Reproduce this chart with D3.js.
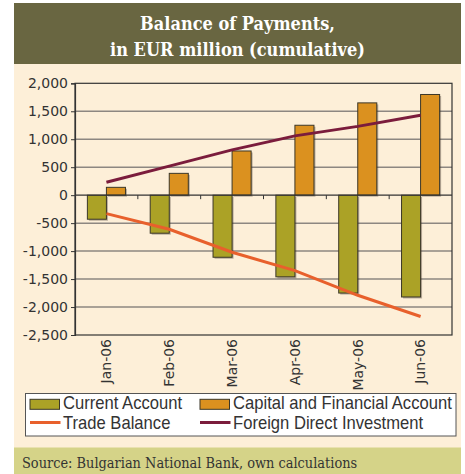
<!DOCTYPE html>
<html>
<head>
<meta charset="utf-8">
<script src="https://cdn.jsdelivr.net/npm/d3@7"></script>
<style>
  body { margin: 0; background: #fff; }
  svg { display: block; }
</style>
</head>
<body>
<div id="chart"></div>
<script>
const months = ['Jan-06', 'Feb-06', 'Mar-06', 'Apr-06', 'May-06', 'Jun-06'];
const currentAccount = [-430, -680, -1110, -1460, -1750, -1820];
const capitalFinancial = [140, 390, 790, 1250, 1650, 1800];
const tradeBalance = [-330, -610, -1020, -1350, -1790, -2170];
const fdi = [230, 520, 810, 1060, 1230, 1430];
const yTicks = [-2500, -2000, -1500, -1000, -500, 0, 500, 1000, 1500, 2000];
const titleLines = ['Balance of Payments,', 'in EUR million (cumulative)'];
const source = 'Source: Bulgarian National Bank, own calculations';

const barSeries = [
  { name: 'Current Account', values: currentAccount, color: '#aba226' },
  { name: 'Capital and Financial Account', values: capitalFinancial, color: '#db911f' },
];
const lineSeries = [
  { name: 'Trade Balance', values: tradeBalance, color: '#e8602c' },
  { name: 'Foreign Direct Investment', values: fdi, color: '#7b1c3c' },
];

const W = 465, H = 474;
const margin = { top: 83.3, left: 75, right: 13, bottom: 139 };
const serif = '"DejaVu Serif Condensed", "DejaVu Serif", serif';

const svg = d3.select('#chart').append('svg')
  .attr('width', W)
  .attr('height', H);

// panel backgrounds
svg.append('rect').attr('x', 14).attr('y', 3).attr('width', 447).attr('height', H - 3).attr('fill', '#fdefd8');
svg.append('rect').attr('x', 14).attr('y', 3).attr('width', 447).attr('height', 61).attr('fill', '#696641');
svg.append('rect').attr('x', 14).attr('y', 447.5).attr('width', 447).attr('height', H - 447.5).attr('fill', '#d5d388');

svg.append('g').selectAll('text').data(titleLines).enter()
  .append('text')
    .attr('x', 237.5)
    .attr('y', (d, i) => 30 + i * 26)
    .attr('text-anchor', 'middle')
    .attr('fill', '#fff')
    .attr('font-family', serif)
    .attr('font-weight', 'bold')
    .attr('font-size', 18)
    .text(d => d);

svg.append('text')
  .attr('x', 22)
  .attr('y', 468)
  .attr('fill', '#333')
  .attr('font-family', serif)
  .attr('font-size', 14.4)
  .text(source);

// scales
const x = d3.scaleBand()
  .domain(months)
  .range([margin.left, W - margin.right])
  .padding(0);
const xs = d3.scaleBand()
  .domain(barSeries.map(d => d.name))
  .range([0, x.bandwidth()])
  .paddingInner(0)
  .paddingOuter(0.65);
const y = d3.scaleLinear()
  .domain([-2500, 2000])
  .range([H - margin.bottom, margin.top]);

const fmt = d3.formatLocale({ decimal: '.', thousands: ',', grouping: [3], currency: ['', ''], minus: '-' }).format(',');

// grid
svg.append('g').selectAll('line').data(yTicks.filter(d => d !== 0 && d !== 2000 && d !== -2500)).enter()
  .append('line')
    .attr('x1', x.range()[0]).attr('x2', x.range()[1])
    .attr('y1', d => y(d)).attr('y2', d => y(d))
    .attr('stroke', '#8d8781')
    .attr('stroke-width', 1.5);

// bars
const bars = svg.append('g');
barSeries.forEach(s => {
  const rects = s.values.map((v, i) => ({ m: months[i], v }));
  bars.append('g').selectAll('rect.shadow').data(rects).enter()
    .append('rect')
      .attr('x', d => x(d.m) + xs(s.name) + 1.5)
      .attr('y', d => Math.min(y(d.v), y(0)) + 1.5)
      .attr('width', xs.bandwidth())
      .attr('height', d => Math.abs(y(d.v) - y(0)))
      .attr('fill', 'rgba(60,50,40,0.35)');
  bars.append('g').selectAll('rect.bar').data(rects).enter()
    .append('rect')
      .attr('x', d => x(d.m) + xs(s.name))
      .attr('y', d => Math.min(y(d.v), y(0)))
      .attr('width', xs.bandwidth())
      .attr('height', d => Math.abs(y(d.v) - y(0)))
      .attr('fill', s.color)
      .attr('stroke', '#3b3728')
      .attr('stroke-width', 1);
});

// frame and zero line
svg.append('rect')
  .attr('x', x.range()[0]).attr('y', y(2000))
  .attr('width', x.range()[1] - x.range()[0])
  .attr('height', y(-2500) - y(2000))
  .attr('fill', 'none')
  .attr('stroke', '#333')
  .attr('stroke-width', 1.2);
svg.append('line')
  .attr('x1', x.range()[0]).attr('x2', x.range()[1])
  .attr('y1', y(0)).attr('y2', y(0))
  .attr('stroke', '#333')
  .attr('stroke-width', 1.2);
svg.append('g').selectAll('line').data(months.slice(1)).enter()
  .append('line')
    .attr('x1', d => x(d)).attr('x2', d => x(d))
    .attr('y1', y(0)).attr('y2', y(0) + 4)
    .attr('stroke', '#333');

// lines
const line = d3.line()
  .x((d, i) => x(months[i]) + x.bandwidth() / 2)
  .y(d => y(d));
svg.append('g').selectAll('path').data(lineSeries).enter()
  .append('path')
    .attr('d', d => line(d.values))
    .attr('fill', 'none')
    .attr('stroke', d => d.color)
    .attr('stroke-width', 3);

// axes
const yAxis = svg.append('g')
  .attr('transform', `translate(${margin.left},0)`)
  .call(d3.axisLeft(y).tickValues(yTicks).tickFormat(fmt).tickSize(4).tickPadding(3));
yAxis.select('.domain').attr('stroke', '#333').attr('stroke-width', 1.2);
yAxis.selectAll('.tick line').attr('stroke', '#333');
yAxis.selectAll('text')
  .attr('font-family', '"DejaVu Sans", Verdana, sans-serif')
  .attr('font-size', 14)
  .attr('fill', '#333');

const xAxis = svg.append('g')
  .attr('transform', `translate(0,${y(-2500)})`)
  .call(d3.axisBottom(x).tickSize(0));
xAxis.select('.domain').remove();
xAxis.selectAll('text')
  .attr('transform', 'rotate(-90)')
  .attr('text-anchor', 'end')
  .attr('x', -4)
  .attr('y', 0)
  .attr('dy', '0.35em')
  .attr('font-family', '"DejaVu Sans", Verdana, sans-serif')
  .attr('font-size', 14)
  .attr('fill', '#333');

// legend
const legend = svg.append('g');
legend.append('rect')
  .attr('x', 25.5).attr('y', 393.5)
  .attr('width', 430.5).attr('height', 42.5)
  .attr('fill', '#fff')
  .attr('stroke', '#555')
  .attr('stroke-width', 1);
const legendItems = [
  { s: barSeries[0], type: 'bar', col: 0, row: 0 },
  { s: barSeries[1], type: 'bar', col: 1, row: 0 },
  { s: lineSeries[0], type: 'line', col: 0, row: 1 },
  { s: lineSeries[1], type: 'line', col: 1, row: 1 },
];
const colX = [30, 200];
const rowY = [409.3, 429];
const li = legend.selectAll('g.item').data(legendItems).enter()
  .append('g')
    .attr('transform', d => `translate(${colX[d.col]},${rowY[d.row]})`);
li.filter(d => d.type === 'bar').append('rect')
  .attr('x', 0).attr('y', -10)
  .attr('width', 29.5).attr('height', 10)
  .attr('fill', d => d.s.color)
  .attr('stroke', '#3b3728');
li.filter(d => d.type === 'line').append('line')
  .attr('x1', 0).attr('x2', 30.5)
  .attr('y1', -6.5).attr('y2', -6.5)
  .attr('stroke', d => d.s.color)
  .attr('stroke-width', 3);
li.append('text')
  .attr('transform', 'translate(33,0) scale(0.95,1)')
  .attr('font-family', '"Liberation Sans", Arial, sans-serif')
  .attr('font-size', 17.5)
  .attr('fill', '#333')
  .text(d => d.s.name);
</script>
</body>
</html>
